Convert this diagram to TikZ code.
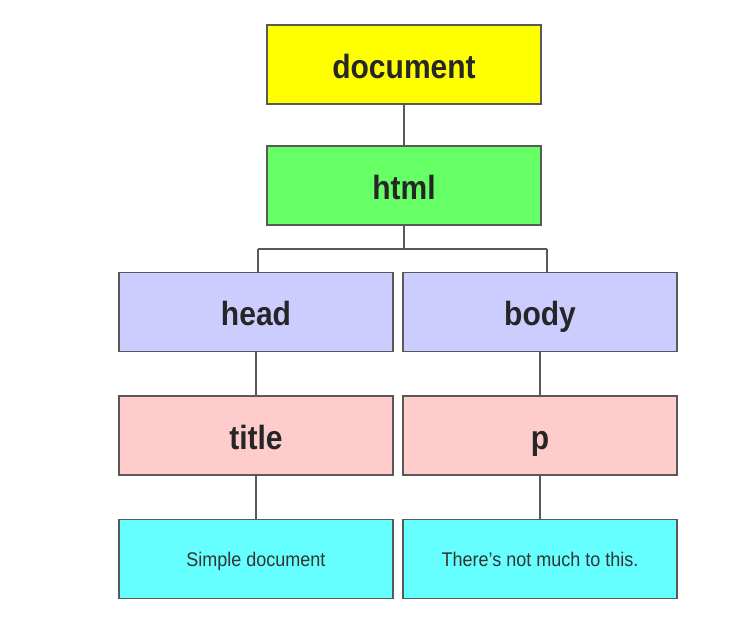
\documentclass[tikz,border=0pt]{standalone}
\usepackage{graphicx}
\usepackage{fontspec}
\setmainfont{Liberation Sans}
\newcommand\tallbig[1]{\scalebox{1}[1.12]{#1}}
\newcommand\tallsmall[1]{\scalebox{1}[1.1]{#1}}
\begin{document}
\begin{tikzpicture}[x=1pt,y=-1pt,
  box/.style={draw=black!65,line width=1.6pt,minimum width=274pt,minimum height=79pt,inner sep=0pt,anchor=center},
  big/.style={box,font=\fontsize{30}{32}\selectfont\bfseries,text=black!85,text height=27.5pt,text depth=0pt},
  small/.style={box,font=\fontsize{18}{20}\selectfont,text=black!80,text height=14pt,text depth=0pt},
  link/.style={draw=black!65,line width=1.8pt}]
\useasboundingbox (0,0) rectangle (747,622);
\fill[white] (0,0) rectangle (747,622);
\definecolor{cyel}{HTML}{FFFF00}
\definecolor{cgrn}{HTML}{66FF66}
\definecolor{clav}{HTML}{CCCCFF}
\definecolor{cpnk}{HTML}{FFCCCC}
\definecolor{ccyn}{HTML}{66FFFF}
\node[big,fill=cyel] (doc) at (404,64.5) {\tallbig{document}};
\node[big,fill=cgrn] (html) at (404,185.5) {\tallbig{html}};
\node[big,fill=clav] (head) at (256,312) {\tallbig{head}};
\node[big,fill=clav] (body) at (540,312) {\tallbig{body}};
\node[big,fill=cpnk] (title) at (256,435.5) {\tallbig{title}};
\node[big,fill=cpnk] (p) at (540,435.5) {\tallbig{p}};
\node[small,fill=ccyn] (sd) at (256,559) {\tallsmall{Simple document}};
\node[small,fill=ccyn] (tn) at (540,559) {\tallsmall{There's not much to this.}};
\coordinate (j) at (404,249);
\coordinate (bl) at (258,249);
\coordinate (br) at (547,249);
\draw[link] (doc) -- (html);
\draw[link] (html) -- (j);
\draw[link] (bl) -- (br);
\draw[link] (bl) -- (bl |- head.north);
\draw[link] (br) -- (br |- body.north);
\draw[link] (head) -- (title);
\draw[link] (body) -- (p);
\draw[link] (title) -- (sd);
\draw[link] (p) -- (tn);
\end{tikzpicture}
\end{document}
